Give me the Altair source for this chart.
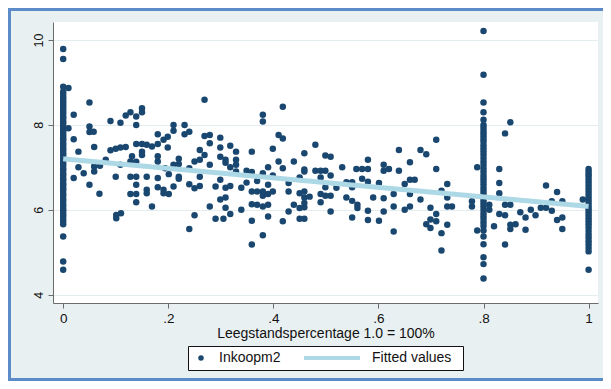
import altair as alt
import pandas as pd

# ---------------- data ----------------
x_ticks = [0, 0.2, 0.4, 0.6, 0.8, 1]
y_ticks = [4, 6, 8, 10]

# dense vertical column at vacancy = 0
col0_y = [9.79, 9.55, 8.90, 8.78, 8.73, 8.66, 8.61, 8.55, 8.49, 8.44, 8.38, 8.33, 8.27,
          8.20, 8.15, 8.08, 8.03, 7.96, 7.91, 7.85, 7.79, 7.74, 7.68, 7.63, 7.56, 7.51,
          7.45, 7.40, 7.34, 7.29, 7.22, 7.17, 7.10, 7.05, 6.98, 6.93, 6.86, 6.81, 6.74,
          6.69, 6.62, 6.57, 6.50, 6.45, 6.38, 6.33, 6.26, 6.21, 6.14, 6.09, 6.02, 5.97,
          5.90, 5.85, 5.78, 5.72, 5.66, 5.37, 4.78, 4.59]
# dense vertical column at vacancy = 0.8
col08_y = [10.21, 9.18, 8.53, 8.30, 8.12, 8.00, 7.93, 7.86, 7.80, 7.73, 7.66, 7.60,
           7.52, 7.45, 7.38, 7.30, 7.22, 7.14, 7.06, 6.98, 6.90, 6.82, 6.75, 6.68,
           6.60, 6.52, 6.45, 6.38, 6.30, 6.22, 6.15, 6.08, 6.00, 5.92, 5.85, 5.78,
           5.70, 5.62, 5.51, 5.37, 5.19, 4.88, 4.72, 4.38]
# dense vertical column at vacancy = 1
col1_y = [6.96, 6.90, 6.84, 6.78, 6.71, 6.64, 6.57, 6.50, 6.43, 6.36, 6.29, 6.22,
          6.15, 6.08, 6.01, 5.94, 5.87, 5.80, 5.73, 5.66, 5.58, 5.50, 5.42, 5.34,
          5.26, 5.18, 5.10, 5.02, 4.59]

pts_a = [(0.010, 8.87), (0.050, 8.53), (0.020, 8.24), (0.010, 7.92), (0.020, 7.66),
         (0.029, 7.37), (0.029, 7.00), (0.020, 6.75), (0.039, 6.86), (0.050, 6.59),
         (0.069, 6.38), (0.050, 7.96), (0.050, 7.83), (0.058, 7.84), (0.059, 7.48),
         (0.059, 7.02), (0.059, 6.90), (0.070, 7.04), (0.081, 7.18), (0.090, 8.09),
         (0.090, 7.40), (0.100, 7.44), (0.100, 6.78), (0.109, 8.05), (0.109, 7.47),
         (0.109, 7.06), (0.119, 7.48), (0.119, 8.22), (0.128, 8.30), (0.131, 7.26),
         (0.128, 7.14), (0.128, 6.78), (0.139, 8.20), (0.139, 8.00), (0.150, 8.39),
         (0.150, 8.30), (0.139, 7.55), (0.139, 7.13), (0.139, 6.78), (0.139, 6.59),
         (0.139, 6.37), (0.139, 6.18), (0.128, 6.37), (0.101, 5.88), (0.101, 5.80),
         (0.110, 5.92), (0.150, 7.55), (0.150, 7.37), (0.150, 7.29), (0.159, 7.53),
         (0.159, 6.78), (0.159, 6.47), (0.159, 6.39), (0.169, 7.49), (0.169, 6.08),
         (0.180, 7.78), (0.180, 7.26), (0.180, 7.14), (0.180, 6.75), (0.180, 6.53),
         (0.180, 7.55), (0.191, 6.47), (0.191, 6.39), (0.199, 7.47), (0.191, 7.65),
         (0.199, 7.72)]
pts_b = [(0.194, 6.98), (0.201, 6.37), (0.201, 6.84), (0.210, 8.00), (0.210, 7.86),
         (0.210, 7.06), (0.210, 6.55), (0.220, 7.20), (0.220, 7.08), (0.220, 6.78),
         (0.220, 6.73), (0.231, 8.00), (0.231, 7.78), (0.240, 7.84), (0.240, 6.98),
         (0.240, 6.60), (0.240, 5.55), (0.250, 5.87), (0.250, 7.14), (0.250, 6.51),
         (0.260, 7.41), (0.260, 7.18), (0.260, 6.78), (0.260, 6.56), (0.269, 8.59),
         (0.269, 7.29), (0.269, 7.74), (0.279, 7.76), (0.279, 7.57), (0.279, 7.06),
         (0.279, 6.08), (0.290, 6.55), (0.290, 5.79), (0.299, 7.70), (0.299, 7.47),
         (0.299, 7.25), (0.299, 6.71), (0.299, 6.24), (0.305, 5.79), (0.309, 7.18),
         (0.309, 7.11), (0.309, 6.52), (0.309, 6.29), (0.309, 6.05), (0.318, 7.51),
         (0.318, 7.00), (0.318, 6.56), (0.318, 5.90), (0.329, 7.37), (0.329, 7.18),
         (0.329, 6.90), (0.329, 7.06), (0.339, 6.52), (0.339, 6.00), (0.349, 6.92),
         (0.349, 6.64), (0.359, 7.37), (0.359, 6.89), (0.359, 6.43), (0.359, 6.13),
         (0.359, 5.74), (0.359, 5.18), (0.369, 6.68), (0.369, 6.43), (0.369, 6.12),
         (0.380, 8.24), (0.380, 8.08), (0.380, 6.86), (0.380, 6.43), (0.380, 6.33),
         (0.380, 6.08), (0.380, 5.40), (0.390, 7.00), (0.390, 6.59), (0.390, 6.37),
         (0.390, 6.12), (0.390, 5.84), (0.399, 7.44), (0.399, 6.81), (0.399, 6.43),
         (0.410, 7.76), (0.410, 7.14), (0.418, 8.43), (0.418, 7.68), (0.418, 6.98),
         (0.418, 5.73)]
pts_c = [(0.429, 6.63), (0.429, 6.43), (0.429, 5.96), (0.439, 7.14), (0.439, 6.12),
         (0.450, 6.76), (0.450, 6.39), (0.450, 6.04), (0.450, 5.79), (0.459, 7.33),
         (0.459, 6.95), (0.459, 6.90), (0.459, 6.43), (0.459, 6.29), (0.459, 6.16),
         (0.459, 6.06), (0.459, 5.79), (0.469, 6.31), (0.480, 7.53), (0.480, 6.92),
         (0.490, 6.92), (0.490, 6.76), (0.490, 6.37), (0.490, 6.18), (0.499, 7.28),
         (0.499, 6.92), (0.499, 6.53), (0.499, 6.33), (0.509, 7.25), (0.509, 6.81),
         (0.509, 6.33), (0.509, 5.96), (0.520, 6.52), (0.531, 7.00), (0.539, 6.65),
         (0.539, 6.29), (0.550, 6.65), (0.550, 6.53), (0.550, 6.21), (0.550, 5.82),
         (0.558, 6.96), (0.560, 6.12), (0.560, 6.04), (0.569, 6.96), (0.569, 6.73),
         (0.580, 7.18), (0.580, 6.96), (0.580, 6.66), (0.580, 5.98), (0.580, 5.76),
         (0.590, 6.29), (0.601, 6.63), (0.601, 5.74), (0.610, 7.06), (0.610, 6.92),
         (0.610, 6.27), (0.610, 5.96), (0.620, 6.96), (0.629, 6.37), (0.629, 6.08),
         (0.629, 5.49), (0.639, 7.41), (0.639, 6.92)]
pts_d = [(0.650, 6.61), (0.650, 6.00), (0.660, 7.12), (0.660, 6.71), (0.660, 6.37),
         (0.660, 6.08), (0.669, 6.71), (0.680, 7.41), (0.680, 6.24), (0.691, 7.31),
         (0.691, 5.66), (0.699, 6.05), (0.699, 5.77), (0.699, 5.57), (0.710, 7.65),
         (0.710, 6.96), (0.710, 5.90), (0.710, 5.73), (0.720, 6.45), (0.720, 5.45),
         (0.720, 5.04), (0.731, 6.61), (0.731, 6.29), (0.731, 6.08), (0.731, 5.65),
         (0.740, 6.08), (0.788, 7.00), (0.778, 6.20), (0.778, 6.08), (0.788, 5.51),
         (0.811, 6.12), (0.811, 6.00), (0.820, 5.61), (0.830, 6.96), (0.830, 6.63),
         (0.830, 6.39), (0.830, 5.90), (0.841, 7.80), (0.841, 6.12), (0.841, 5.87),
         (0.841, 5.18), (0.851, 8.06), (0.851, 6.12), (0.851, 5.65), (0.851, 5.55)]
pts_e = [(0.861, 5.66), (0.870, 5.94), (0.880, 5.82), (0.880, 5.53), (0.890, 6.00),
         (0.899, 5.87), (0.909, 6.05), (0.919, 6.57), (0.919, 6.05), (0.930, 6.20),
         (0.930, 5.98), (0.940, 6.42), (0.940, 5.76), (0.950, 6.20), (0.950, 5.82),
         (0.950, 5.55), (0.989, 6.24)]

fit_x = [0, 1]
fit_y = [7.20, 6.08]

# ---------------- build tables ----------------
rows = ([(0.0, v) for v in col0_y] + [(0.8, v) for v in col08_y] +
        [(1.0, v) for v in col1_y] + pts_a + pts_b + pts_c + pts_d + pts_e)
pts = pd.DataFrame(rows, columns=["x", "y"])
pts["series"] = "Inkoopm2"
fit = pd.DataFrame({"x": fit_x, "y": fit_y, "series": ["Fitted values"] * 2})
one = pd.DataFrame({"k": [0]})

FONT = "Liberation Sans"
NAVY = "#1a476f"
LIGHT = "#add8e6"
BORDER = "#5b8bc9"

xscale = alt.Scale(domain=[-0.0194, 1.0179], nice=False, zero=False)
yscale = alt.Scale(domain=[3.804, 10.424], nice=False, zero=False)

x_axis = alt.Axis(
    values=x_ticks,
    labelExpr="datum.value == 0 ? '0' : datum.value == 1 ? '1' : replace(format(datum.value, '.1f'), '0.', '.')",
    title="Leegstandspercentage 1.0 = 100%",
    grid=False, tickSize=5, labelPadding=3, titlePadding=2,
    labelFontSize=13.5, titleFontSize=14, titleFontWeight="normal",
    domainColor="#6b6b6b", tickColor="#6b6b6b",
    labelColor="#111111", titleColor="#111111",
    labelFont=FONT, titleFont=FONT,
)
y_axis = alt.Axis(
    values=y_ticks, title=None, grid=True, gridColor="#e3ecef", gridWidth=1,
    tickSize=5, labelAngle=270, labelAlign="center", labelBaseline="bottom",
    labelPadding=3, labelFontSize=12.5, labelFont=FONT, labelColor="#111111",
    domainColor="#6b6b6b", tickColor="#6b6b6b",
)

# decorative blue frame of the graph region: left, top and bottom edges
frame_left = alt.Chart(one).mark_rule(color=BORDER, strokeWidth=3).encode(
    x=alt.value(-43.5), y=alt.value(-14), y2=alt.value(359)
)
frame_top = alt.Chart(one).mark_rule(color=BORDER, strokeWidth=3).encode(
    x=alt.value(-45), x2=alt.value(560), y=alt.value(-12.5)
)
frame_bottom = alt.Chart(one).mark_rule(color=BORDER, strokeWidth=3).encode(
    x=alt.value(-45), x2=alt.value(560), y=alt.value(357.5)
)

legend_box = alt.Chart(one).mark_rect(
    fill="white", stroke="#111111", strokeWidth=1
).encode(
    x=alt.value(135.5), x2=alt.value(410.5), y=alt.value(324.5), y2=alt.value(348.5)
)

points = alt.Chart(pts).mark_circle(size=42, opacity=1).encode(
    x=alt.X("x:Q", scale=xscale, axis=x_axis),
    y=alt.Y("y:Q", scale=yscale, axis=y_axis),
    color=alt.Color(
        "series:N",
        scale=alt.Scale(domain=["Inkoopm2"], range=[NAVY]),
        legend=alt.Legend(
            title=None, orient="none", legendX=141, legendY=329,
            symbolType="circle", symbolSize=30, labelOffset=11, padding=0,
            labelFontSize=14, labelFont=FONT, labelColor="#111111",
        ),
    ),
)

line = alt.Chart(fit).mark_line(color=LIGHT, strokeWidth=5).encode(
    x=alt.X("x:Q", scale=xscale),
    y=alt.Y("y:Q", scale=yscale),
    strokeDash=alt.StrokeDash(
        "series:N",
        scale=alt.Scale(domain=["Fitted values"], range=[[1, 0]]),
        legend=alt.Legend(
            title=None, orient="none", legendX=249, legendY=306,
            symbolType="stroke", symbolSize=3136, symbolStrokeWidth=4,
            symbolStrokeColor=LIGHT, labelOffset=10, padding=0,
            labelFontSize=14, labelFont=FONT, labelColor="#111111",
        ),
    ),
)

chart = alt.layer(frame_left, frame_top, frame_bottom, legend_box, points, line).properties(
    width=545, height=281,
    padding={"left": 45, "top": 14, "right": 5, "bottom": 78},
    autosize=alt.AutoSizeParams(type="none"),
    background="#e9f0f2",
).configure_view(fill="white", stroke=None)

chart.save("out.html", embed_options={"renderer": "svg", "actions": False})
